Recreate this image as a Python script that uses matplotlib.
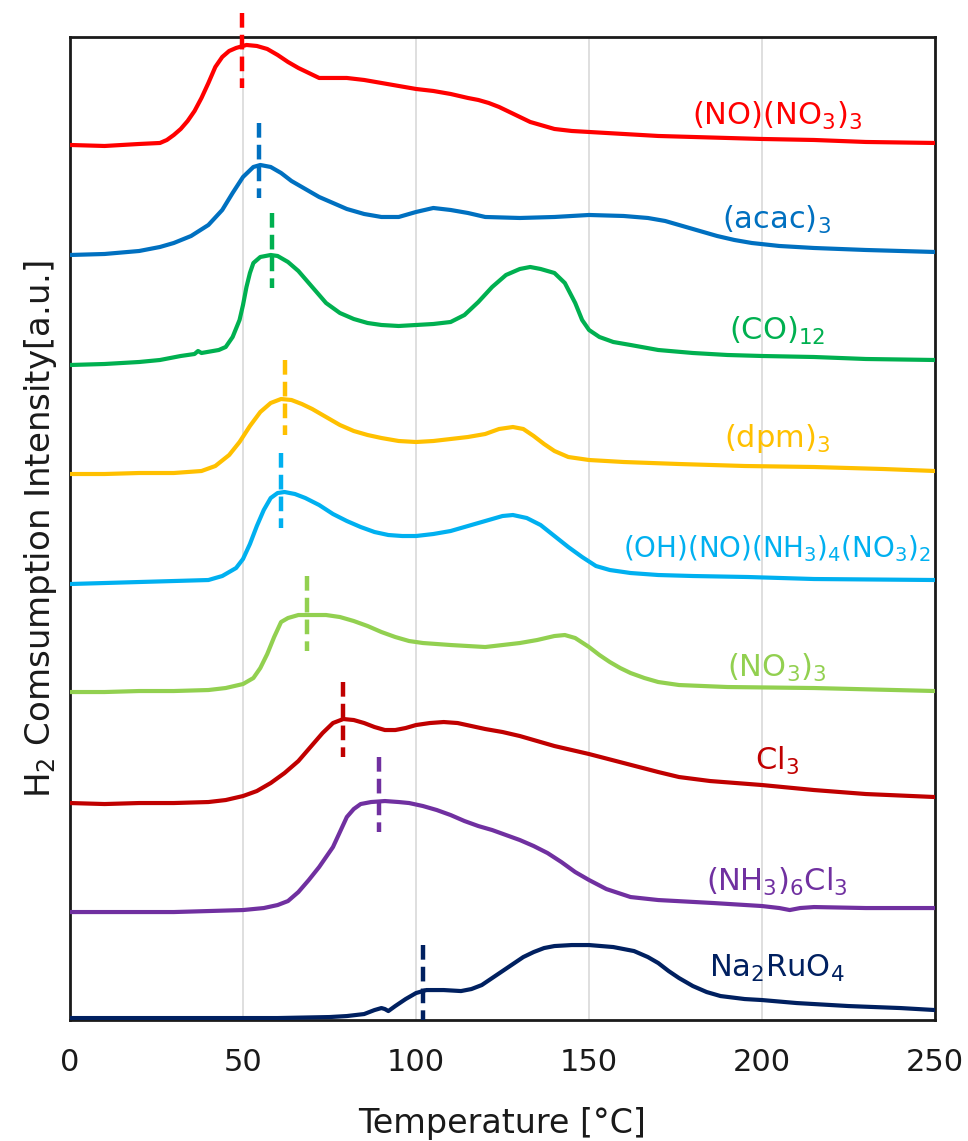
"""
Stacked H2-TPR profiles of Ru precursors with peak markers.
Saves out.png.
"""

import matplotlib
matplotlib.use("Agg")
import matplotlib.pyplot as plt

plt.rcParams["font.family"] = ["DejaVu Sans"]
plt.rcParams["mathtext.fontset"] = "dejavusans"
plt.rcParams["mathtext.default"] = "regular"

# ── Profiles (temperature in °C, intensity above each trace's own baseline) ──

t_no_no3 = [0, 10, 20, 26, 28, 30, 32, 34, 36, 38, 40, 42, 44, 46, 48, 51, 54,
            57, 60, 63, 66, 69, 72, 76, 80, 85, 90, 95, 100, 105, 110, 115, 118,
            121, 124, 127, 130, 133, 136, 140, 145, 150, 160, 170, 180, 190, 200,
            215, 230, 250]
i_no_no3 = [0, -1, 1, 2, 5, 10, 16, 24, 34, 47, 62, 78, 88, 94, 97, 100, 99,
            96, 90, 83, 77, 72, 67, 67, 67, 65, 62, 59, 56, 54, 51, 47, 45,
            42, 38, 33, 28, 23, 20, 16, 14, 13, 11, 9, 8, 7, 6,
            5, 3, 2]

t_acac = [0, 10, 20, 26, 30, 35, 40, 44, 47, 50, 53, 55, 58, 61, 64, 68, 72, 76,
          80, 85, 90, 95, 100, 105, 110, 115, 120, 130, 140, 150, 160, 167, 172,
          177, 182, 187, 192, 197, 205, 215, 230, 250]
i_acac = [0, 1, 4, 8, 12, 19, 30, 45, 62, 78, 88, 90, 88, 82, 74, 66, 58, 52,
          46, 41, 38, 38, 43, 47, 45, 42, 38, 37, 38, 40, 39, 37, 34,
          29, 24, 19, 15, 12, 9, 7, 5, 3]

t_co = [0, 10, 20, 26, 32, 36, 37, 38, 43, 45, 47, 49, 50, 51, 52, 53, 55, 58,
        60, 63, 66, 70, 74, 78, 82, 86, 90, 95, 100, 105, 110, 114, 118, 122,
        126, 130, 133, 136, 140, 143, 146, 148, 150, 153, 157, 162, 170, 180,
        190, 200, 215, 230, 250]
i_co = [0, 1, 3, 5, 9, 11, 14, 12, 15, 18, 28, 45, 60, 78, 92, 102, 108, 110,
        109, 103, 94, 78, 62, 52, 46, 42, 40, 39, 40, 41, 43, 50, 63, 78,
        90, 96, 98, 96, 92, 82, 62, 45, 35, 28, 23, 20, 15, 12,
        10, 9, 8, 6, 5]

t_dpm = [0, 10, 20, 30, 38, 42, 46, 49, 52, 55, 58, 61, 64, 67, 70, 74, 78, 82,
         86, 90, 95, 100, 105, 110, 115, 120, 124, 128, 131, 134, 137, 140, 144,
         150, 160, 176, 195, 215, 235, 250]
i_dpm = [0, 0, 1, 1, 3, 8, 19, 32, 48, 62, 71, 75, 74, 70, 65, 57, 49, 43,
         39, 36, 33, 32, 33, 35, 37, 40, 45, 47, 45, 38, 30, 23, 17,
         14, 12, 10, 8, 7, 5, 3]

t_oh_no = [0, 10, 20, 30, 40, 44, 48, 50, 52, 54, 56, 58, 60, 62, 65, 68, 72, 76,
           80, 84, 88, 92, 96, 100, 105, 110, 115, 120, 125, 128, 132, 136, 140,
           144, 148, 152, 156, 162, 170, 180, 196, 215, 250]
i_oh_no = [0, 1, 2, 3, 4, 8, 16, 25, 40, 58, 74, 86, 91, 92, 90, 86, 79, 70,
           63, 57, 52, 49, 48, 48, 50, 53, 58, 63, 68, 69, 66, 59, 48,
           37, 27, 18, 14, 11, 9, 8, 7, 5, 4]

t_no3 = [0, 10, 20, 30, 40, 45, 50, 53, 55, 57, 59, 61, 63, 66, 70, 74, 78, 82,
         86, 90, 94, 98, 102, 106, 110, 115, 120, 125, 130, 135, 140, 143, 146,
         150, 153, 156, 159, 162, 166, 170, 176, 190, 215, 250]
i_no3 = [0, 0, 1, 1, 2, 4, 8, 14, 24, 38, 55, 70, 74, 77, 77, 77, 75, 71,
         66, 60, 55, 51, 49, 48, 47, 46, 45, 47, 49, 52, 56, 57, 54,
         45, 37, 30, 24, 19, 14, 10, 7, 5, 4, 1]

t_cl = [0, 10, 20, 30, 40, 45, 50, 54, 58, 62, 66, 70, 73, 76, 79, 82, 85, 88,
        91, 94, 97, 100, 104, 108, 112, 116, 120, 125, 130, 135, 140, 145, 150,
        160, 170, 176, 185, 200, 215, 230, 250]
i_cl = [0, -1, 0, 0, 1, 3, 7, 12, 20, 30, 42, 58, 70, 80, 84, 83, 80, 76,
        73, 73, 75, 78, 80, 81, 80, 77, 74, 71, 67, 62, 57, 53, 49,
        40, 31, 26, 22, 18, 13, 9, 6]

t_nh3_cl = [0, 10, 20, 30, 40, 50, 56, 60, 63, 66, 69, 72, 76, 78, 80, 82, 84, 87,
            91, 95, 98, 102, 106, 110, 114, 118, 122, 126, 130, 134, 138, 142,
            146, 150, 155, 162, 170, 186, 200, 205, 208, 211, 215, 230, 250]
i_nh3_cl = [0, 0, 0, 0, 1, 2, 4, 7, 11, 20, 32, 45, 65, 80, 95, 103, 108, 110,
            111, 110, 109, 106, 102, 97, 91, 86, 82, 77, 72, 66, 59, 50,
            40, 32, 23, 15, 12, 9, 6, 4, 2, 4, 5, 4, 4]

t_na = [0, 20, 40, 60, 75, 80, 85, 88, 90, 91, 92, 94, 97, 100, 103, 108, 113,
        116, 119, 122, 125, 128, 131, 134, 137, 140, 145, 150, 157, 163, 167,
        170, 173, 176, 180, 184, 188, 195, 200, 210, 225, 240, 250]
i_na = [0, 0, 0, 0, 1, 2, 4, 8, 10, 9, 7, 12, 19, 25, 28, 28, 27,
        29, 33, 40, 47, 54, 61, 66, 70, 72, 73, 73, 71, 67, 61,
        55, 47, 40, 32, 26, 22, 19, 18, 15, 12, 10, 8]

temps = [t_no_no3, t_acac, t_co, t_dpm, t_oh_no, t_no3, t_cl, t_nh3_cl, t_na]
intensities = [i_no_no3, i_acac, i_co, i_dpm, i_oh_no, i_no3, i_cl, i_nh3_cl, i_na]

labels = [
    "(NO)(NO$_3$)$_3$",
    "(acac)$_3$",
    "(CO)$_{12}$",
    "(dpm)$_3$",
    "(OH)(NO)(NH$_3$)$_4$(NO$_3$)$_2$",
    "(NO$_3$)$_3$",
    "Cl$_3$",
    "(NH$_3$)$_6$Cl$_3$",
    "Na$_2$RuO$_4$",
]
colors = ["#FF0000", "#0070C0", "#00B050", "#FFC000", "#00B0F0",
          "#92D050", "#C00000", "#7030A0", "#002060"]

# vertical stacking offsets and label baselines (a.u.)
offsets = [875, 765, 655, 546, 436, 328, 217, 108, 2]
label_y = [895, 791, 680, 573, 463, 343, 250, 129, 43]
label_x = 204.3

# peak temperatures, marked by dashed ticks
peak_t = [49.7, 54.7, 58.4, 62.1, 60.9, 68.4, 78.8, 89.4, 102.0]
peak_top = [1007, 897, 807, 660, 567, 444, 338, 263, 75]
peak_len = 75

# ── Plot ──────────────────────────────────────────────────────────────────────

fig = plt.figure(figsize=(9.68, 11.41), dpi=100)
ax = fig.add_axes([0.0723, 0.106, 0.8937, 0.8616])

for t, inten, off, c in zip(temps, intensities, offsets, colors):
    ax.plot(t, [v + off for v in inten], color=c, linewidth=3.0,
            solid_joinstyle="round", solid_capstyle="butt", zorder=3)

for pt, top, c in zip(peak_t, peak_top, colors):
    ax.plot([pt, pt], [top, top - peak_len], color=c, linewidth=3.2,
            dashes=(3.3, 1.6), dash_capstyle="butt",
            clip_on=False, zorder=4)

for lab, ly, c in zip(labels, label_y, colors):
    fs = 20 if "OH" in lab else 22
    ax.text(label_x, ly, lab, color=c, fontsize=fs, ha="center", va="baseline",
            zorder=5)

ax.set_xlim(0, 250)
ax.set_ylim(0, 983)
ax.set_xticks([0, 50, 100, 150, 200, 250])
ax.set_yticks([])
ax.tick_params(axis="x", length=0, pad=20, labelsize=22, labelcolor="#1a1a1a")
ax.grid(axis="x", color="#d9d9d9", linewidth=1.2, zorder=0)
ax.set_axisbelow(True)

for side in ["left", "right", "top", "bottom"]:
    ax.spines[side].set_linewidth(2.0)
    ax.spines[side].set_color("#1a1a1a")

ax.set_xlabel("Temperature [°C]", fontsize=24, color="#1a1a1a", labelpad=22)
ax.set_ylabel("H$_2$ Comsumption Intensity[a.u.]", fontsize=24.5,
              color="#1a1a1a", labelpad=8)

fig.savefig("out.png", dpi=100)
print("Saved: out.png")
